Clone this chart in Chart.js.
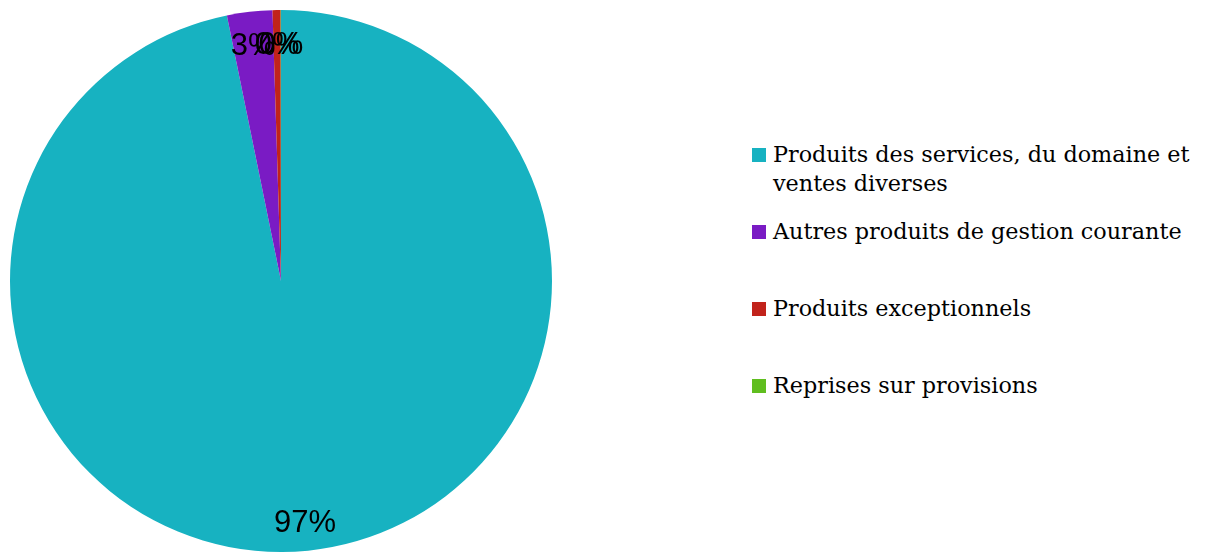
<!DOCTYPE html>
<html>
<head>
<meta charset="utf-8">
<script src="https://cdn.jsdelivr.net/npm/chart.js@4"></script>
<style>
    html, body { margin: 0; padding: 0; background: #fff; }
    #wrap { position: relative; width: 1207px; height: 552px; }
    #pieBox { position: absolute; left: 0; top: 0; width: 562px; height: 552px; }
    #legend { position: absolute; left: 752px; top: 140px; margin: 0; padding: 0; list-style: none;
              font-family: 'DejaVu Serif', serif; font-size: 22.3px; color: #000; white-space: nowrap; }
    #legend li { position: relative; height: 77px; padding-left: 21px; line-height: 29px; }
    #legend li span.box { position: absolute; left: 0; top: 8px; width: 14px; height: 14px; }
</style>
</head>
<body>
<div id="wrap">
    <div id="pieBox"><canvas id="pieChart"></canvas></div>
    <ul id="legend"></ul>
</div>
<script>
// Recettes par nature (part en %)
const categories = [
    'Produits des services, du domaine et ventes diverses',
    'Autres produits de gestion courante',
    'Produits exceptionnels',
    'Reprises sur provisions'
];
const legendLines = [
    ['Produits des services, du domaine et', 'ventes diverses'],
    ['Autres produits de gestion courante'],
    ['Produits exceptionnels'],
    ['Reprises sur provisions']
];
const shares = [96.8, 2.7, 0.48, 0.02];
const colors = ['#17b2c1', '#7a1bc4', '#c1231b', '#60be1f'];

// percentage labels drawn near the outer edge of each slice
const sliceLabels = {
    id: 'sliceLabels',
    afterDatasetsDraw(chart) {
        const ctx = chart.ctx;
        const meta = chart.getDatasetMeta(0);
        const data = chart.data.datasets[0].data;
        const total = data.reduce((a, b) => a + b, 0);
        ctx.save();
        ctx.font = '31px "Liberation Sans", Arial, sans-serif';
        ctx.fillStyle = '#000';
        ctx.textAlign = 'center';
        ctx.textBaseline = 'middle';
        meta.data.forEach((arc, i) => {
            const p = arc.getProps(['x', 'y', 'startAngle', 'endAngle', 'outerRadius'], true);
            const mid = (p.startAngle + p.endAngle) / 2;
            const r = p.outerRadius * 0.885;
            const txt = Math.round(data[i] / total * 100) + '%';
            ctx.fillText(txt, p.x + Math.cos(mid) * r, p.y + Math.sin(mid) * r + 4);
        });
        ctx.restore();
    }
};

const ctx = document.getElementById('pieChart').getContext('2d');
const pieChart = new Chart(ctx, {
    type: 'pie',
    data: {
        labels: categories,
        datasets: [{
            data: shares,
            backgroundColor: colors,
            borderWidth: 0
        }]
    },
    options: {
        responsive: true,
        maintainAspectRatio: false,
        animation: false,
        layout: { padding: { top: 10, left: 10, right: 10, bottom: 0 } },
        plugins: {
            legend: { display: false },
            tooltip: { enabled: false }
        }
    },
    plugins: [sliceLabels]
});

// legend on the right
const legend = document.getElementById('legend');
legendLines.forEach((lines, i) => {
    const li = document.createElement('li');
    const box = document.createElement('span');
    box.className = 'box';
    box.style.background = colors[i];
    li.appendChild(box);
    li.insertAdjacentHTML('beforeend', lines.join('<br>'));
    legend.appendChild(li);
});
</script>
</body>
</html>
